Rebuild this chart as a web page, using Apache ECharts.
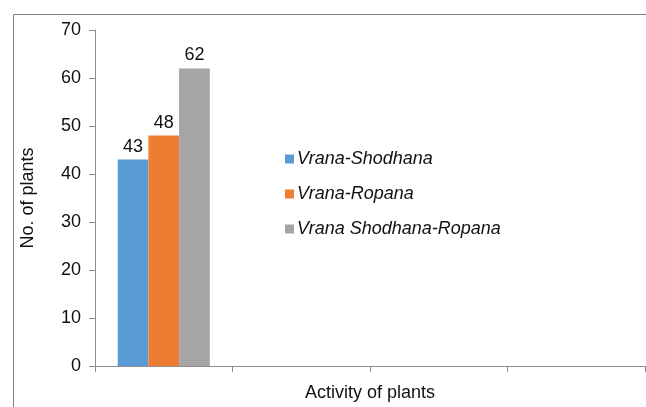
<!DOCTYPE html>
<html><head><meta charset="utf-8">
<script src="https://cdn.jsdelivr.net/npm/echarts@6/dist/echarts.min.js"></script>
<style>html,body{margin:0;padding:0;background:#fff}#c{width:646px;height:407px}</style>
</head><body><div id="c"></div>
<script>
const categories = ['A', 'B', 'C', 'D'];
const seriesNames = ['Vrana-Shodhana', 'Vrana-Ropana', 'Vrana Shodhana-Ropana'];
const shodhana = [43, null, null, null];
const ropana = [48, null, null, null];
const shodhanaRopana = [62, null, null, null];
const yTicks = [0, 10, 20, 30, 40, 50, 60, 70];
const colors = ['#5B9BD5', '#ED7D31', '#A5A5A5'];
const allData = [shodhana, ropana, shodhanaRopana];

const font = '"Liberation Sans", Arial, sans-serif';
const chart = echarts.init(document.getElementById('c'), null, {renderer: 'canvas'});
chart.setOption({
  animation: false,
  textStyle: {fontFamily: font},
  graphic: [{type: 'rect', left: 11, top: 12, shape: {width: 700, height: 500}, style: {fill: 'none', stroke: '#7f7f7f', lineWidth: 1}, z: -1}],
  grid: {left: 95, right: 1, top: 30, bottom: 41, containLabel: false},
  legend: {
    orient: 'vertical', left: 280, top: 145, itemWidth: 9, itemHeight: 9, itemGap: 17,
    icon: 'rect',
    textStyle: {fontSize: 18, fontStyle: 'italic', color: '#111', fontFamily: font, padding: [0, 0, 0, -2]},
    data: seriesNames
  },
  xAxis: {
    type: 'category', data: categories,
    name: 'Activity of plants', nameLocation: 'middle', nameGap: 18,
    nameTextStyle: {fontSize: 18, color: '#111', fontFamily: font},
    axisLine: {lineStyle: {color: '#8c8c8c'}},
    axisTick: {show: true, length: 6, lineStyle: {color: '#8c8c8c'}},
    axisLabel: {show: false}
  },
  yAxis: {
    type: 'value', min: 0, max: 70, interval: 10,
    name: 'No. of plants', nameLocation: 'middle', nameGap: 58, nameRotate: 90,
    nameTextStyle: {fontSize: 18, color: '#111', fontFamily: font},
    axisLine: {show: true, lineStyle: {color: '#8c8c8c'}},
    axisTick: {show: true, length: 6, lineStyle: {color: '#8c8c8c'}},
    splitLine: {show: false},
    axisLabel: {fontSize: 18, color: '#111', margin: 14, fontFamily: font,
      formatter: v => yTicks.includes(v) ? String(v) : ''}
  },
  series: seriesNames.map((n, i) => ({
    name: n, type: 'bar', data: allData[i],
    barGap: '0%', barCategoryGap: '33%',
    itemStyle: {color: colors[i]},
    label: {show: true, position: 'top', fontSize: 18, color: '#111', distance: 4, fontFamily: font}
  }))
});
</script></body></html>
